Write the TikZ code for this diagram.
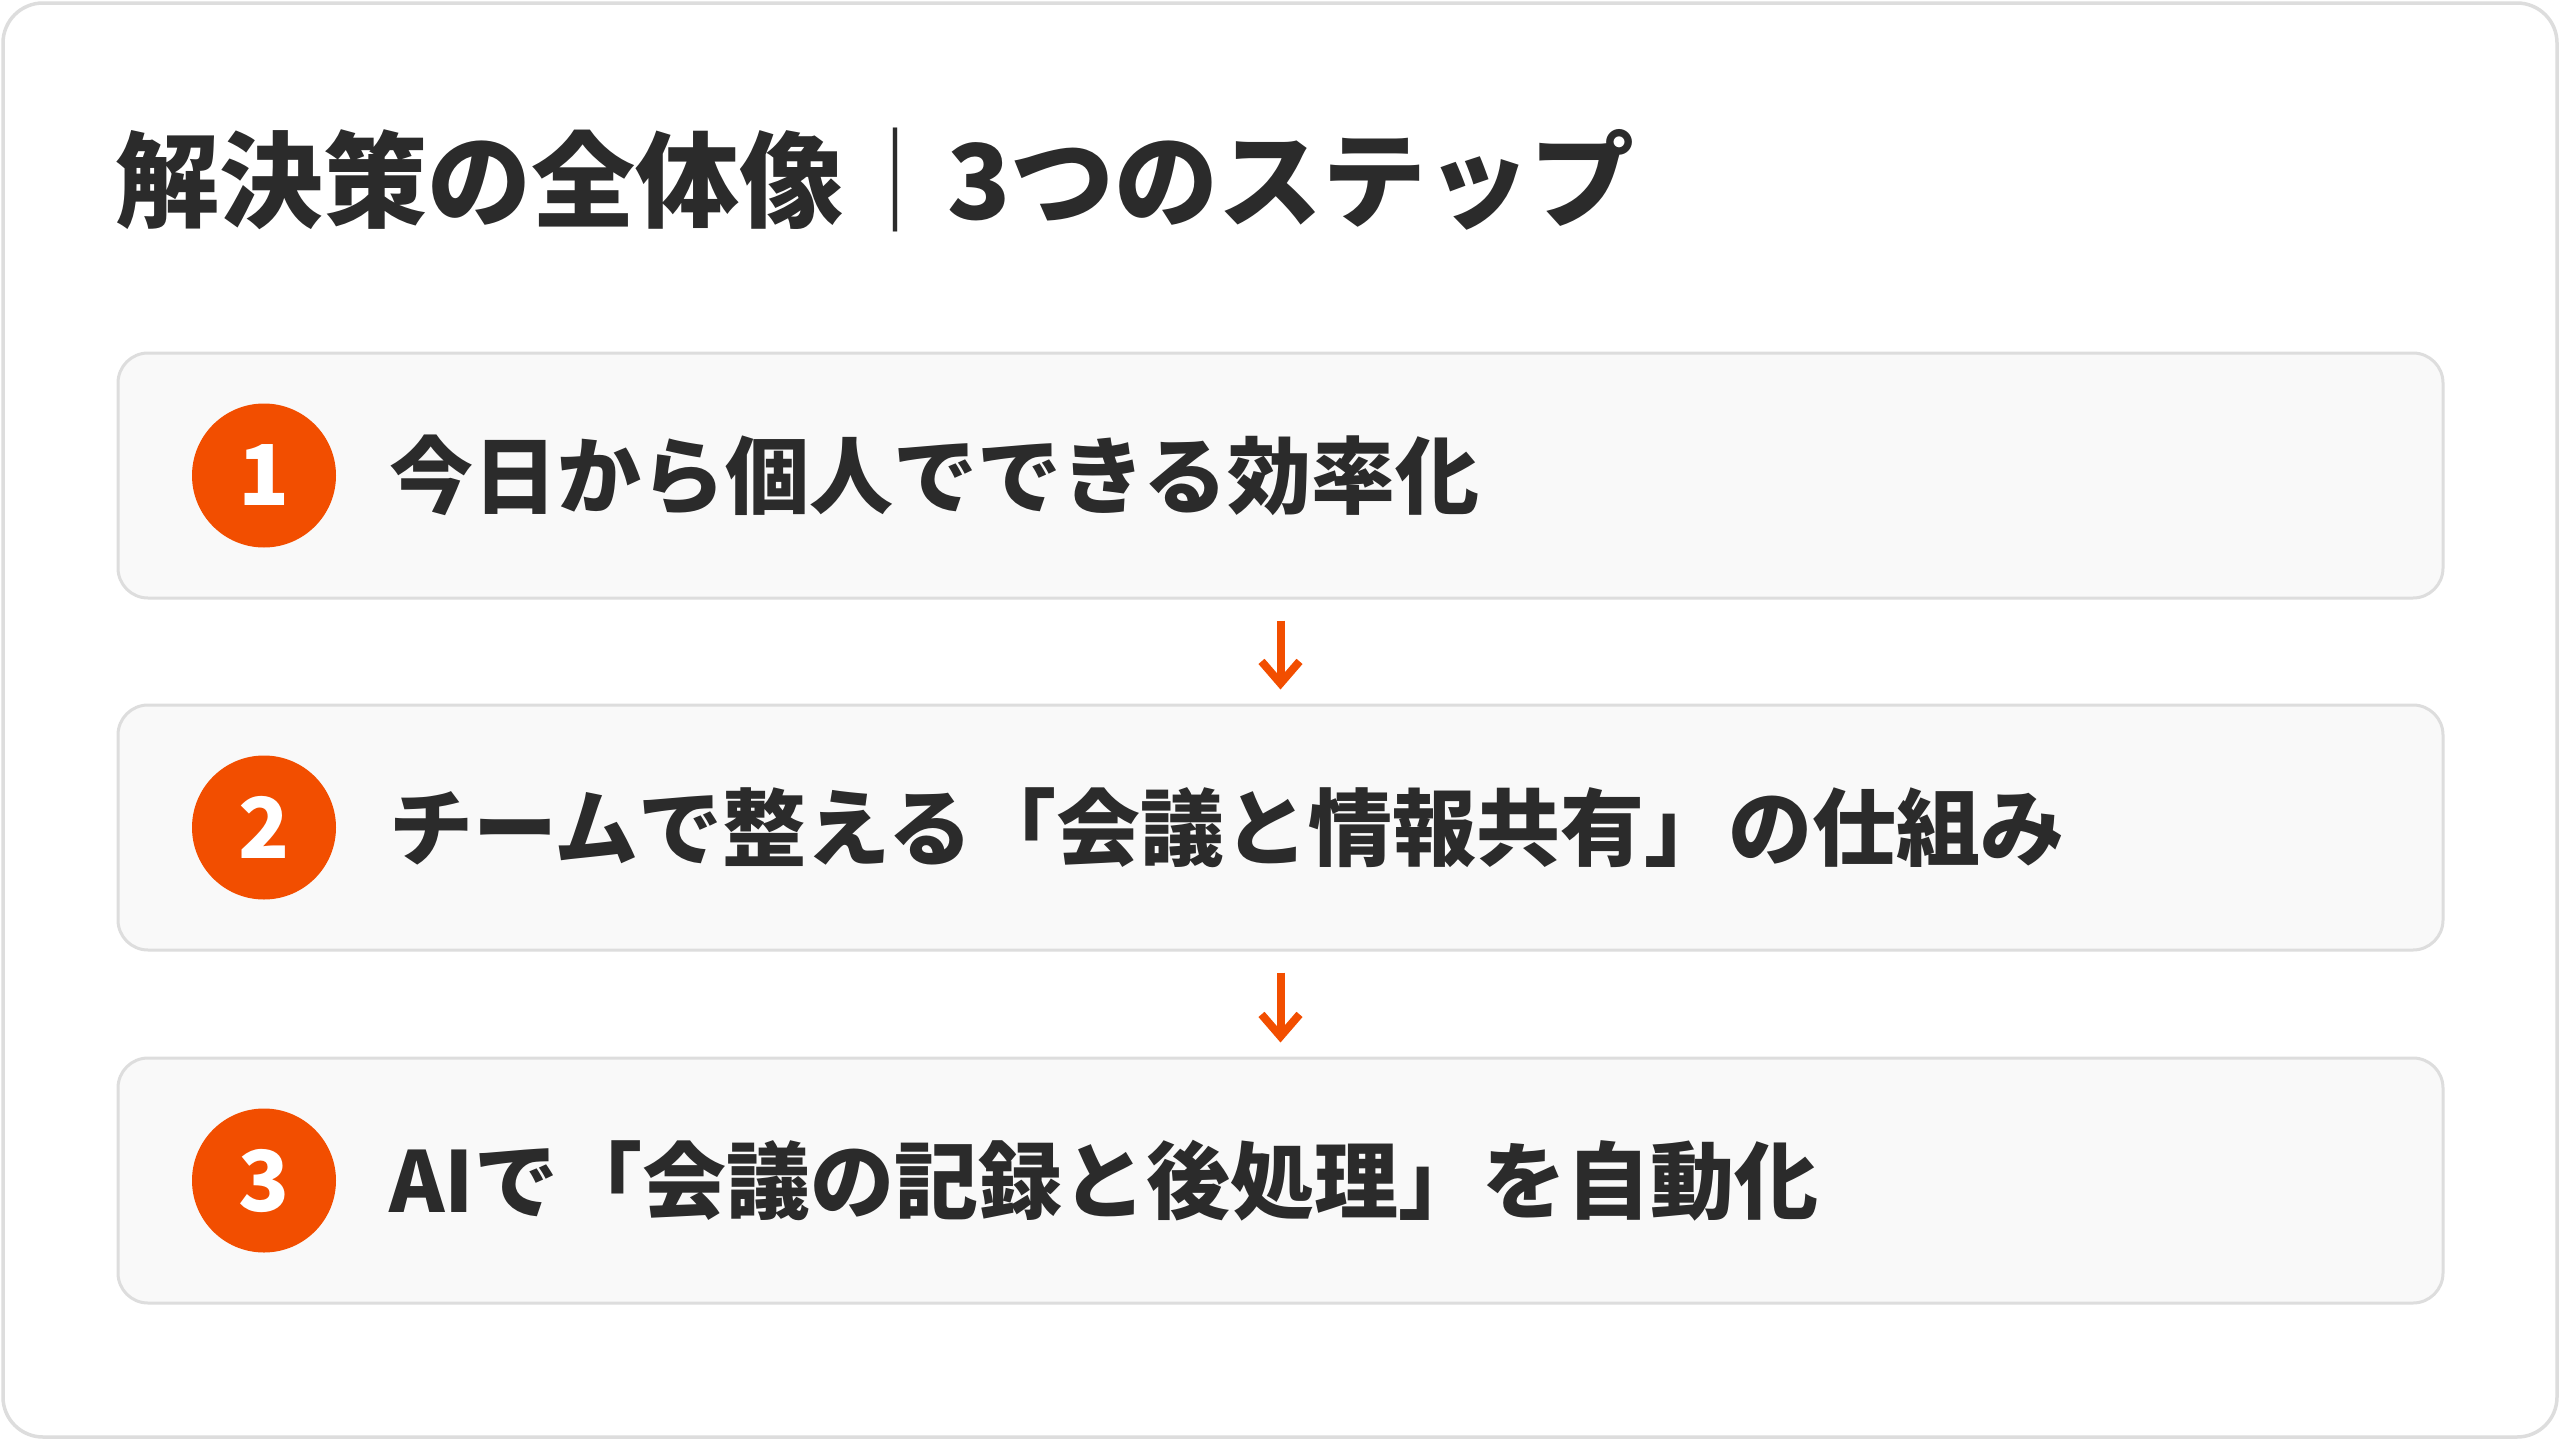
\documentclass[tikz,border=0pt]{standalone}
\usepackage{fontspec}
\setmainfont{Noto Sans CJK JP}
\usetikzlibrary{arrows.meta}
\definecolor{ink}{HTML}{2B2B2B}
\definecolor{accent}{HTML}{F24E00}
\definecolor{edge}{HTML}{DDDDDD}
\definecolor{cardfill}{HTML}{F9F9F9}
\tikzset{
  outerframe/.style={draw=edge, line width=1.75pt, fill=white, rounded corners=20pt},
  card/.style={draw=edge, line width=1.5pt, fill=cardfill, rounded corners=15pt,
    minimum width=1162.5pt, minimum height=122.5pt, inner sep=0pt},
  badge/.style={circle, fill=accent, minimum size=72pt, inner sep=0pt, text=white,
    font=\fontsize{42}{48}\selectfont\bfseries},
  steptext/.style={anchor=west, inner sep=0pt, text=ink, font=\fontsize{42}{48}\selectfont\bfseries},
  titletext/.style={anchor=west, inner sep=0pt, text=ink, font=\fontsize{52}{60}\selectfont\bfseries},
  flow/.style={draw=accent, line width=4pt, -{Straight Barb[length=11pt, width=19pt, line width=4pt]},
    shorten <=10.5pt, shorten >=7pt}
}
\begin{document}
\begin{tikzpicture}[x=0.5pt, y=-0.5pt]
\useasboundingbox (0,0) rectangle (2560,1440);
\fill[white] (0,0) rectangle (2560,1440);
\draw[outerframe] (3,3) rectangle (2557,1437);
\node[titletext] (title) at (115,180) {解決策の全体像{\mdseries ｜}3つのステップ};
\node[card] (b1) at (1280.5,475.5) {};
\node[card] (b2) at (1280.5,827.5) {};
\node[card] (b3) at (1280.5,1180.5) {};
\node[badge] (n1) at (264,475.5) {1};
\node[badge] (n2) at (264,827.5) {2};
\node[badge] (n3) at (264,1180.5) {3};
\node[steptext] (t1) at (389,475.5) {今日から個人でできる効率化};
\node[steptext] (t2) at (389,827.5) {チームで整える「会議と情報共有」の仕組み};
\node[steptext] (t3) at (389,1180.5) {AIで「会議の記録と後処理」を自動化};
\draw[flow] (b1.south) -- (b2.north);
\draw[flow] (b2.south) -- (b3.north);
\end{tikzpicture}
\end{document}
